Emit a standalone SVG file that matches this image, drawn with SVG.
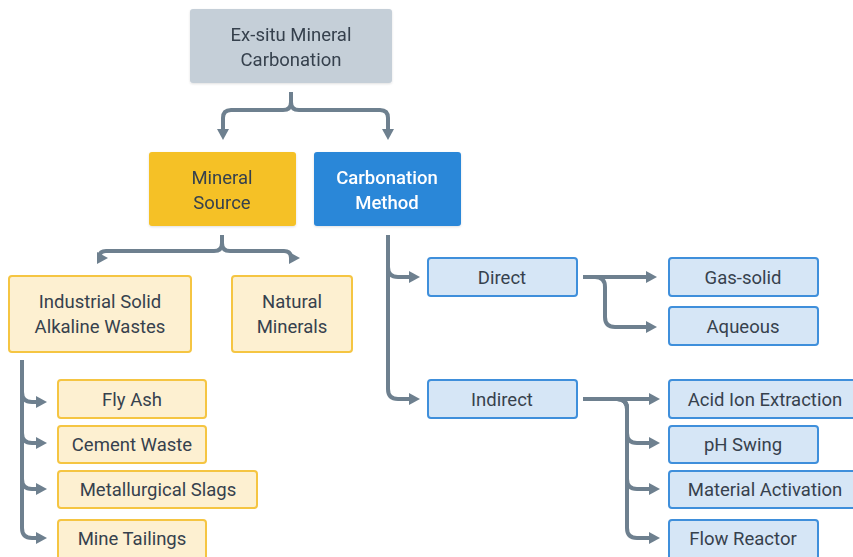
<svg xmlns="http://www.w3.org/2000/svg" width="853" height="557" viewBox="0 0 853 557">
<defs>
<marker id="ah" markerUnits="userSpaceOnUse" markerWidth="11" markerHeight="12" viewBox="0 0 11 12" refX="2" refY="6" orient="auto">
<path d="M0,0 L11,6 L0,12 z" fill="#6e808f"/>
</marker>
<filter id="sh" x="-10%" y="-10%" width="120%" height="130%">
<feDropShadow dx="0" dy="1" stdDeviation="1.2" flood-color="#000" flood-opacity="0.12"/>
</filter>
</defs>
<style>
text{font-family:Roboto,"Liberation Sans",sans-serif;font-size:18.5px;fill:#36414d;text-anchor:middle;dominant-baseline:central}
.root{fill:#c5cfd8}
.ys{fill:#f5c125}
.bm{fill:#2b87d8}
.yl{fill:#fdf0d1;stroke:#f5c542;stroke-width:2}
.bl{fill:#d6e6f6;stroke:#3f8fdb;stroke-width:2}
.w{fill:#ffffff;font-weight:500}
.c path{fill:none;stroke:#6e808f;stroke-width:4;marker-end:url(#ah)}
</style>
<g class="c" id="connectors">
<path d="M291,92 V102 Q291,110 283,110 H231 Q223,110 223,118 V131"/>
<path d="M291,92 V102 Q291,110 299,110 H380 Q388,110 388,118 V131"/>
<path d="M222,235 V243 Q222,251 214,251 H106 Q99,251 99,258 V258"/>
<path d="M222,235 V243 Q222,251 230,251 H284 Q291,251 291,258 V258"/>
<path d="M22,360 V392 Q22,402 32,402 H38"/>
<path d="M22,360 V433 Q22,443 32,443 H38"/>
<path d="M22,360 V479 Q22,489 32,489 H38"/>
<path d="M22,360 V528 Q22,538 32,538 H38"/>
<path d="M388,235 V267 Q388,277 398,277 H411"/>
<path d="M388,235 V389 Q388,399 398,399 H411"/>
<path d="M583,277 H648"/>
<path d="M583,277 H595 Q605,277 605,287 V317 Q605,327 615,327 H648"/>
<path d="M583,399 H651"/>
<path d="M583,399 H617 Q627,399 627,409 V433 Q627,443 637,443 H651"/>
<path d="M583,399 H617 Q627,399 627,409 V479 Q627,489 637,489 H651"/>
<path d="M583,399 H617 Q627,399 627,409 V528 Q627,538 637,538 H651"/>
</g>
<g id="root" filter="url(#sh)"><rect class="root" x="190" y="9" width="202" height="74" rx="3"/><text x="291" y="35">Ex-situ Mineral</text><text x="291" y="60">Carbonation</text></g>
<g id="mineral-source" filter="url(#sh)"><rect class="ys" x="149" y="152" width="147" height="74" rx="3"/><text x="222" y="178">Mineral</text><text x="222" y="203">Source</text></g>
<g id="carbonation-method" filter="url(#sh)"><rect class="bm" x="314" y="152" width="147" height="74" rx="3"/><text class="w" x="387" y="178">Carbonation</text><text class="w" x="387" y="203">Method</text></g>
<g id="industrial"><rect class="yl" x="9" y="276" width="182" height="76" rx="3"/><text x="100" y="302">Industrial Solid</text><text x="100" y="327">Alkaline Wastes</text></g>
<g id="natural"><rect class="yl" x="232" y="276" width="120" height="76" rx="3"/><text x="292" y="302">Natural</text><text x="292" y="327">Minerals</text></g>
<g id="fly-ash"><rect class="yl" x="58" y="380" width="148" height="38" rx="3"/><text x="132" y="400">Fly Ash</text></g>
<g id="cement"><rect class="yl" x="58" y="426" width="148" height="37" rx="3"/><text x="132" y="445">Cement Waste</text></g>
<g id="slags"><rect class="yl" x="58" y="471" width="199" height="37" rx="3"/><text x="158" y="490">Metallurgical Slags</text></g>
<g id="tailings"><rect class="yl" x="58" y="520" width="148" height="40" rx="3"/><text x="132" y="539">Mine Tailings</text></g>
<g id="direct"><rect class="bl" x="428" y="258" width="149" height="38" rx="3"/><text x="502" y="278">Direct</text></g>
<g id="indirect"><rect class="bl" x="428" y="380" width="149" height="38" rx="3"/><text x="502" y="400">Indirect</text></g>
<g id="gas-solid"><rect class="bl" x="669" y="258" width="149" height="38" rx="3"/><text x="743" y="278">Gas-solid</text></g>
<g id="aqueous"><rect class="bl" x="669" y="307" width="149" height="38" rx="3"/><text x="743" y="327">Aqueous</text></g>
<g id="acid"><rect class="bl" x="669" y="380" width="190" height="38" rx="3"/><text x="765" y="400">Acid Ion Extraction</text></g>
<g id="ph"><rect class="bl" x="669" y="426" width="149" height="37" rx="3"/><text x="743" y="445">pH Swing</text></g>
<g id="activation"><rect class="bl" x="669" y="471" width="190" height="37" rx="3"/><text x="765" y="490">Material Activation</text></g>
<g id="flow"><rect class="bl" x="669" y="520" width="149" height="40" rx="3"/><text x="743" y="539">Flow Reactor</text></g>
</svg>
